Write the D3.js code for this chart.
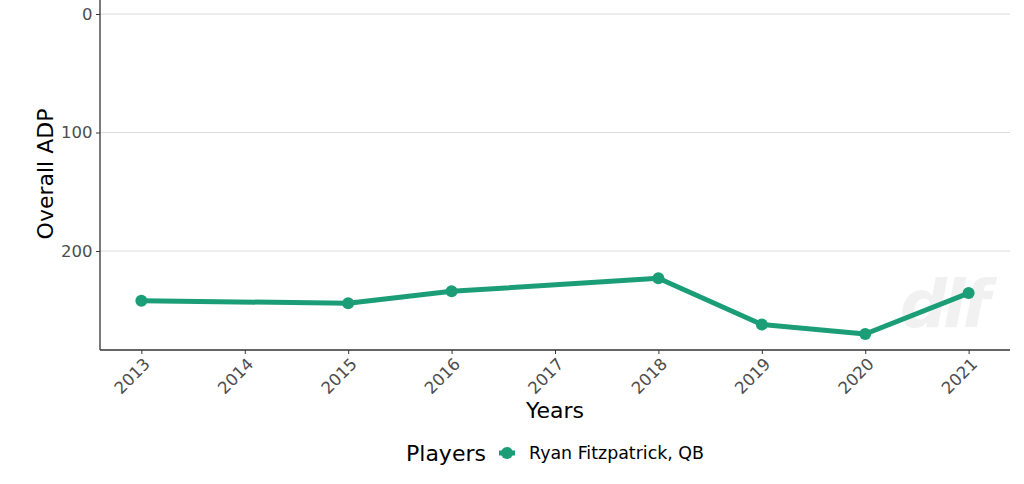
<!DOCTYPE html>
<html><head><meta charset="utf-8">
<script src="https://cdn.jsdelivr.net/npm/d3@7"></script>
<style>body{margin:0;background:#fff}svg{display:block}text{font-family:"DejaVu Sans",sans-serif}</style>
</head><body><svg id="c" width="1024" height="484"></svg>
<script>
const years = [2013, 2015, 2016, 2018, 2019, 2020, 2021];
const adp = [242, 244, 234, 223, 262, 270, 235.5];
const xTicks = [2013, 2014, 2015, 2016, 2017, 2018, 2019, 2020, 2021];
const yTicks = [0, 100, 200];
const seriesName = "Ryan Fitzpatrick, QB";
const color = "#1b9e77";

const svg = d3.select("#c");
const L = 100, R = 1010, T = -2, B = 350;
const x = d3.scaleLinear().domain([2012.6, 2021.4]).range([L, R]);
const y = d3.scaleLinear().domain([-13.5, 283.5]).range([T, B]);

// grid
svg.append("g").selectAll("line").data(yTicks).join("line")
  .attr("x1", L).attr("x2", R).attr("y1", d => y(d)).attr("y2", d => y(d))
  .attr("stroke", "#dcdcdc").attr("stroke-width", 1);

// watermark
svg.append("text").attr("x", 943).attr("y", 327).attr("text-anchor", "middle")
  .attr("font-size", 66).attr("font-weight", 900).attr("font-style", "italic")
  .attr("fill", "#f1f1f1").attr("letter-spacing", -4).text("dlf");

// axes
const ya = svg.append("g").attr("transform", `translate(${L},0)`)
  .call(d3.axisLeft(y).tickValues(yTicks).tickSize(4).tickPadding(3.5));
ya.select(".domain").remove();
svg.append("line").attr("x1", L).attr("x2", L).attr("y1", T).attr("y2", B).attr("stroke", "#333").attr("stroke-width", 1.3);
ya.selectAll(".tick line").attr("stroke", "#333");
ya.selectAll(".tick text").attr("fill", "#4d4d4d").attr("font-size", 16.5);

const xa = svg.append("g").attr("transform", `translate(0,${B})`)
  .call(d3.axisBottom(x).tickValues(xTicks).tickFormat(d3.format("d")).tickSize(4));
xa.select(".domain").remove();
svg.append("line").attr("x1", L).attr("x2", R).attr("y1", B).attr("y2", B).attr("stroke", "#333").attr("stroke-width", 1.3);
xa.selectAll(".tick line").attr("stroke", "#333");
xa.selectAll(".tick text").attr("fill", "#4d4d4d").attr("font-size", 16.5)
  .attr("text-anchor", "end").attr("dy", null).attr("y", 0)
  .attr("transform", "translate(6,12) rotate(-45)").attr("dominant-baseline", "middle");

// titles
svg.append("text").attr("transform", `translate(53,${(T + B) / 2}) rotate(-90)`)
  .attr("text-anchor", "middle").attr("font-size", 22).attr("fill", "#000").text("Overall ADP");
svg.append("text").attr("x", (L + R) / 2).attr("y", 418).attr("text-anchor", "middle")
  .attr("font-size", 22).attr("fill", "#000").text("Years");

// line & points
svg.append("path").datum(years.map((d, i) => [d, adp[i]]))
  .attr("d", d3.line().x(d => x(d[0])).y(d => y(d[1])))
  .attr("fill", "none").attr("stroke", color).attr("stroke-width", 5).attr("stroke-linejoin", "round");
svg.append("g").selectAll("circle").data(years.map((d, i) => [d, adp[i]])).join("circle")
  .attr("cx", d => x(d[0])).attr("cy", d => y(d[1])).attr("r", 6).attr("fill", color);

// legend
svg.append("text").attr("x", 406).attr("y", 461).attr("font-size", 22).attr("fill", "#000").text("Players");
svg.append("line").attr("x1", 499).attr("x2", 515).attr("y1", 453).attr("y2", 453).attr("stroke", color).attr("stroke-width", 5);
svg.append("circle").attr("cx", 507).attr("cy", 453).attr("r", 6).attr("fill", color);
svg.append("text").attr("x", 529).attr("y", 459).attr("font-size", 17.4).attr("fill", "#000").text(seriesName);
</script></body></html>
